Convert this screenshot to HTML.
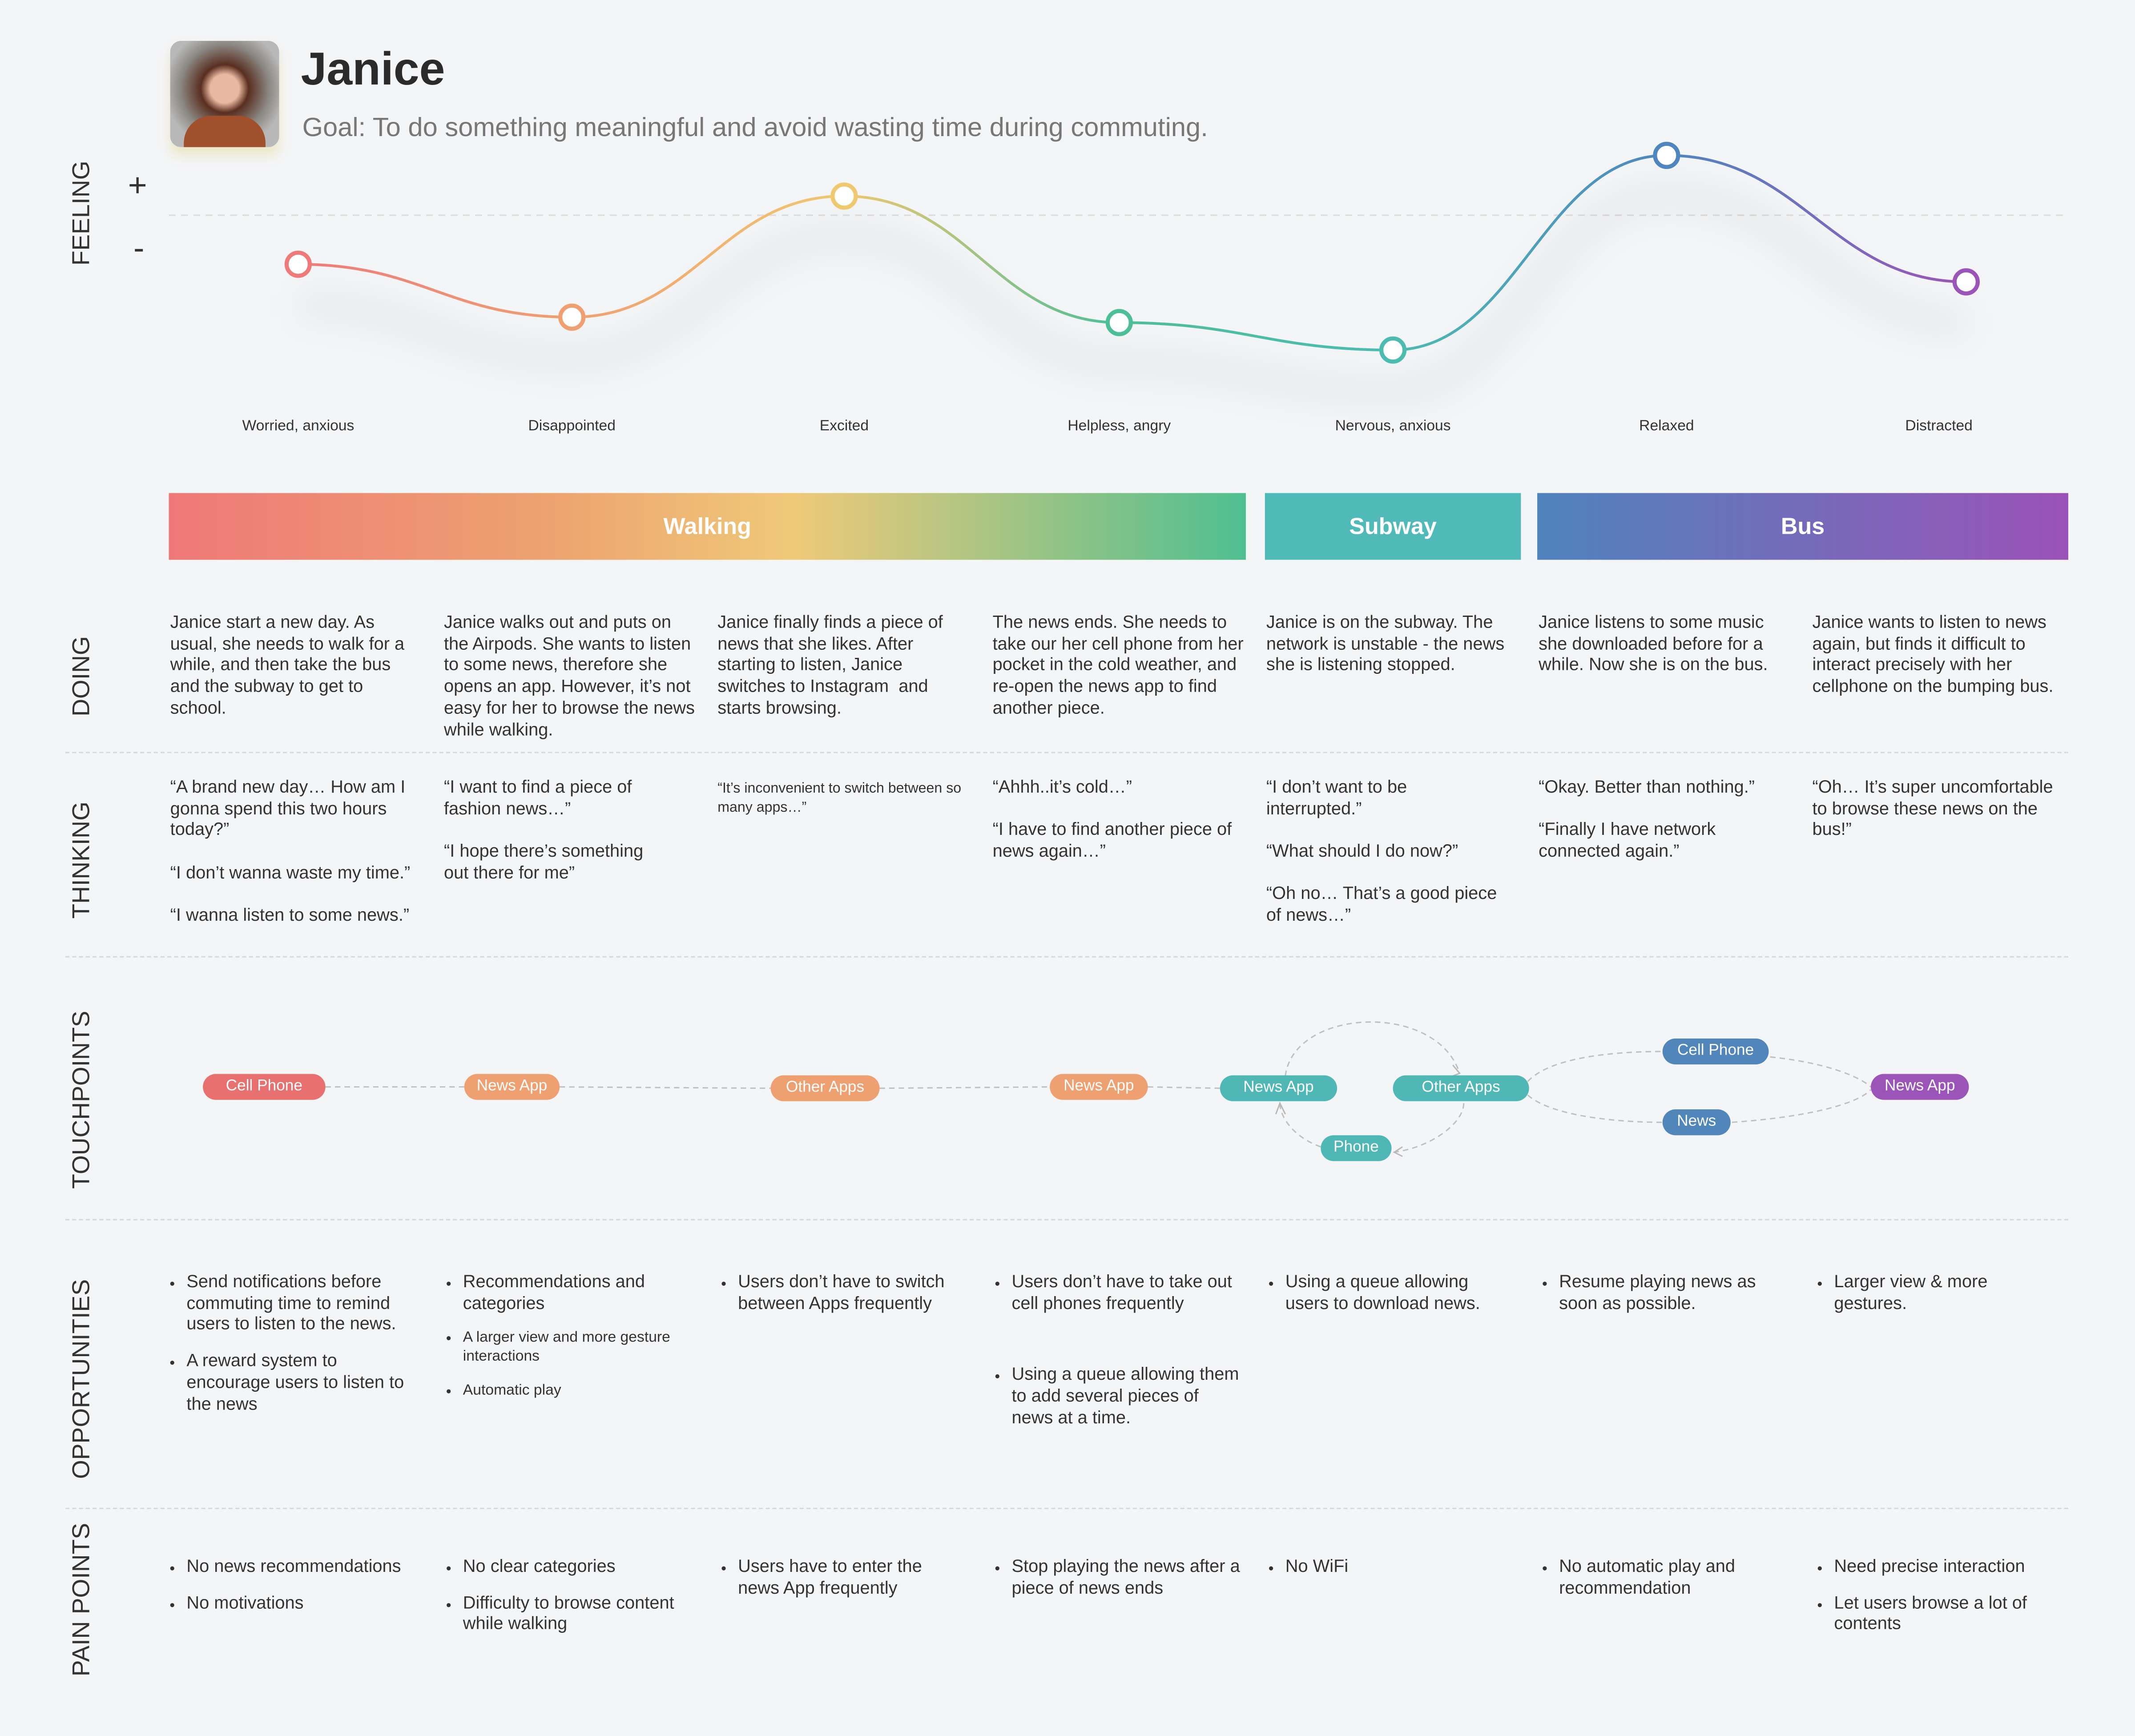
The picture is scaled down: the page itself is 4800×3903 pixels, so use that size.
<!DOCTYPE html>
<html><head><meta charset="utf-8">
<style>
html,body{margin:0;padding:0;background:#f4f5f7;}
body{width:4800px;height:3843px;overflow:hidden;}
#page{position:absolute;left:0;top:0;width:1568px;height:1255px;transform-origin:0 0;transform:scale(3.0612,3.0622);font-family:"Liberation Sans",sans-serif;color:#333;}
.abs{position:absolute;}
.sec{position:absolute;font-size:18px;color:#333;transform:rotate(-90deg);transform-origin:center;white-space:nowrap;width:200px;text-align:center;left:-40px;}
.col{position:absolute;width:181px;font-size:13px;line-height:15.7px;color:#333;}
.col p{margin:0 0 15.7px 0;}
.small{font-size:10.5px;line-height:14px;}
ul{margin:0;padding:0 0 0 12px;}
li{margin:0 0 11px 0;padding-left:0;}
li::marker{font-size:10px;}
.sm li{font-size:11px;line-height:14px;}
.div{position:absolute;left:48px;width:1471px;border-top:1px dashed #d8d8d8;height:0;}
.pill{position:absolute;height:19px;line-height:19px;border-radius:10px;color:#fff;font-size:11.5px;text-align:center;transform:translate(-50%,-50%);}
.phase{position:absolute;top:362px;height:49px;line-height:49px;color:#fff;font-weight:bold;font-size:17px;text-align:center;}
</style></head><body>
<div id="page">
  <div class="abs" style="left:125px;top:30px;width:80px;height:78px;border-radius:8px;background:radial-gradient(circle at 50% 45%,#e8b8a0 0 18%,#5a2e20 30%,#8a8680 55%,#b8b8b8 75%);box-shadow:0 6px 8px rgba(230,220,150,0.5);overflow:hidden;">
    <div style="position:absolute;left:10px;top:55px;width:60px;height:30px;background:#a0502a;border-radius:20px 20px 0 0;"></div>
  </div>
  <div class="abs" style="left:221px;top:32px;font-size:34px;font-weight:bold;color:#2b2b2b;">Janice</div>
  <div class="abs" style="left:222px;top:83px;font-size:19.5px;color:#777;white-space:nowrap;">Goal: To do something meaningful and avoid wasting time during commuting.</div>

  <div class="sec" style="top:146px;">FEELING</div>
  <div class="abs" style="left:94px;top:123px;font-size:24px;">+</div>
  <div class="abs" style="left:98px;top:169px;font-size:24px;">-</div>

  <svg class="abs" id="feel" style="left:0;top:0;" width="1568" height="330"></svg>

  <div class="phase" style="left:124px;width:791px;background:linear-gradient(90deg,#ee7878,#eda26f 35%,#efc978 58%,#4fbf90);">Walking</div>
  <div class="phase" style="left:929px;width:188px;background:#50bab8;">Subway</div>
  <div class="phase" style="left:1129px;width:390px;background:linear-gradient(90deg,#4f83bd,#9b52b8);">Bus</div>

  <div class="sec" style="top:486px;">DOING</div>
  <div class="sec" style="top:621px;">THINKING</div>
  <div class="sec" style="top:797px;">TOUCHPOINTS</div>
  <div class="sec" style="top:1002px;">OPPORTUNITIES</div>
  <div class="sec" style="top:1164px;">PAIN POINTS</div>

  <div class="div" style="top:552px;"></div>
  <div class="div" style="top:702px;"></div>
  <div class="div" style="top:895px;"></div>
  <div class="div" style="top:1107px;"></div>

  <!-- DOING -->
  <div class="col" style="left:125px;top:449px;">Janice start a new day. As usual, she needs to walk for a while, and then take the bus and the subway to get to school.</div>
  <div class="col" style="left:326px;top:449px;width:188px;">Janice walks out and puts on the Airpods. She wants to listen to some news, therefore she opens an app. However, it’s not easy for her to browse the news while walking.</div>
  <div class="col" style="left:527px;top:449px;">Janice finally finds a piece of news that she likes. After starting to listen, Janice switches to Instagram &nbsp;and starts browsing.</div>
  <div class="col" style="left:729px;top:449px;width:188px;">The news ends. She needs to take our her cell phone from her pocket in the cold weather, and re-open the news app to find another piece.</div>
  <div class="col" style="left:930px;top:449px;width:188px;">Janice is on the subway. The network is unstable - the news she is listening stopped.</div>
  <div class="col" style="left:1130px;top:449px;">Janice listens to some music she downloaded before for a while. Now she is on the bus.</div>
  <div class="col" style="left:1331px;top:449px;width:190px;">Janice wants to listen to news again, but finds it difficult to interact precisely with her cellphone on the bumping bus.</div>

  <!-- THINKING -->
  <div class="col" style="left:125px;top:570px;"><p>“A brand new day… How am I gonna spend this two hours today?”</p><p>“I don’t wanna waste my time.”</p><p>“I wanna listen to some news.”</p></div>
  <div class="col" style="left:326px;top:570px;width:160px;"><p>“I want to find a piece of fashion news…”</p><p>“I hope there’s something out there for me”</p></div>
  <div class="col small" style="left:527px;top:572px;width:192px;">“It’s inconvenient to switch between so many apps…”</div>
  <div class="col" style="left:729px;top:570px;"><p>“Ahhh..it’s cold…”</p><p>“I have to find another piece of news again…”</p></div>
  <div class="col" style="left:930px;top:570px;width:175px;"><p>“I don’t want to be interrupted.”</p><p>“What should I do now?”</p><p>“Oh no… That’s a good piece of news…”</p></div>
  <div class="col" style="left:1130px;top:570px;"><p>“Okay. Better than nothing.”</p><p>“Finally I have network connected again.”</p></div>
  <div class="col" style="left:1331px;top:570px;"><p>“Oh… It’s super uncomfortable to browse these news on the bus!”</p></div>

  <!-- TOUCHPOINTS -->
  <svg class="abs" style="left:0;top:0;" width="1568" height="1255">
    <g fill="none" stroke="#c0c0c0" stroke-width="1" stroke-dasharray="4,3">
      <path d="M239 798 L341 798"/><path d="M411 798 L566 799"/><path d="M646 799 L771 798"/><path d="M843 798 L896 799"/>
      <path d="M944 790 C950 740 1055 735 1072 788"/>
      <path d="M1075 810 C1075 825 1050 843 1023 846"/>
      <path d="M970 842 C950 835 940 820 940 810"/>
      <path d="M1122 794 C1140 775 1190 772 1222 772"/>
      <path d="M1300 776 C1340 780 1365 790 1374 798"/>
      <path d="M1122 804 C1140 820 1190 824 1221 824"/>
      <path d="M1272 824 C1330 820 1365 810 1374 800"/>
    </g>
    <g fill="none" stroke="#b8b8b8" stroke-width="1">
      <path d="M1067 782 L1072 788 L1067 790"/><path d="M1030 842 L1024 846 L1030 849"/><path d="M937 818 L940 810 L944 818"/>
    </g>
  </svg>
  <div class="pill" style="left:194px;top:798px;width:90px;background:#e8706f;">Cell Phone</div>
  <div class="pill" style="left:376px;top:798px;width:70px;background:#eea070;">News App</div>
  <div class="pill" style="left:606px;top:799px;width:80px;background:#eea070;">Other Apps</div>
  <div class="pill" style="left:807px;top:798px;width:72px;background:#eea070;">News App</div>
  <div class="pill" style="left:939px;top:799px;width:86px;background:#4fb8b6;">News App</div>
  <div class="pill" style="left:1073px;top:799px;width:100px;background:#4fb8b6;">Other Apps</div>
  <div class="pill" style="left:996px;top:843px;width:52px;background:#4fb8b6;">Phone</div>
  <div class="pill" style="left:1260px;top:772px;width:78px;background:#5086ba;">Cell Phone</div>
  <div class="pill" style="left:1246px;top:824px;width:50px;background:#5086ba;">News</div>
  <div class="pill" style="left:1410px;top:798px;width:72px;background:#9b55b8;">News App</div>

  <!-- OPPORTUNITIES -->
  <div class="col" style="left:125px;top:933px;"><ul><li>Send notifications before commuting time to remind users to listen to the news.</li><li>A reward system to encourage users to listen to the news</li></ul></div>
  <div class="col" style="left:328px;top:933px;"><ul><li>Recommendations and categories</li></ul><ul class="sm"><li>A larger view and more gesture interactions</li><li>Automatic play</li></ul></div>
  <div class="col" style="left:530px;top:933px;"><ul><li>Users don’t have to switch between Apps frequently</li></ul></div>
  <div class="col" style="left:731px;top:933px;"><ul><li style="margin-bottom:37px;">Users don’t have to take out cell phones frequently</li><li>Using a queue allowing them to add several pieces of news at a time.</li></ul></div>
  <div class="col" style="left:932px;top:933px;"><ul><li>Using a queue allowing users to download news.</li></ul></div>
  <div class="col" style="left:1133px;top:933px;"><ul><li>Resume playing news as soon as possible.</li></ul></div>
  <div class="col" style="left:1335px;top:933px;"><ul><li>Larger view &amp; more gestures.</li></ul></div>

  <!-- PAIN POINTS -->
  <div class="col" style="left:125px;top:1142px;width:190px;"><ul><li>No news recommendations</li><li>No motivations</li></ul></div>
  <div class="col" style="left:328px;top:1142px;"><ul><li>No clear categories</li><li>Difficulty to browse content while walking</li></ul></div>
  <div class="col" style="left:530px;top:1142px;"><ul><li>Users have to enter the news App frequently</li></ul></div>
  <div class="col" style="left:731px;top:1142px;"><ul><li>Stop playing the news after a piece of news ends</li></ul></div>
  <div class="col" style="left:932px;top:1142px;"><ul><li>No WiFi</li></ul></div>
  <div class="col" style="left:1133px;top:1142px;"><ul><li>No automatic play and recommendation</li></ul></div>
  <div class="col" style="left:1335px;top:1142px;"><ul><li>Need precise interaction</li><li>Let users browse a lot of contents</li></ul></div>
</div>
<script>
const feelings = ["Worried, anxious","Disappointed","Excited","Helpless, angry","Nervous, anxious","Relaxed","Distracted"];
const feelingScores = [-1.0, -2.08, 0.39, -2.19, -2.75, 1.22, -1.36];
const pointColors = ["#ee7a7a","#f0a070","#efc870","#4dbf98","#4cbcb0","#4f86c0","#9b55b8"];
const xPos = i => [219,420,620,822,1023,1224,1444][i];
const labelX = i => [219,420,620,822,1023,1224,1424][i];
const yScale = v => 158 - v*36;
const svg = document.getElementById('feel');
const NS = 'http://www.w3.org/2000/svg';
function mk(t,a){const e=document.createElementNS(NS,t);for(const k in a)e.setAttribute(k,a[k]);return e;}
const defs = mk('defs',{});
const grad = mk('linearGradient',{id:'lg',gradientUnits:'userSpaceOnUse',x1:219,y1:0,x2:1444,y2:0});
pointColors.forEach((c,i)=>{grad.appendChild(mk('stop',{offset:((xPos(i)-219)/1225).toFixed(3),'stop-color':c}));});
defs.appendChild(grad);
const flt = mk('filter',{id:'blur',x:'-10%',y:'-50%',width:'120%',height:'200%'});
flt.appendChild(mk('feGaussianBlur',{stdDeviation:12}));
defs.appendChild(flt);
svg.appendChild(defs);
const base = mk('line',{x1:124,y1:158,x2:1519,y2:158,stroke:'#dcdcdc','stroke-dasharray':'5,4'});


svg.appendChild(base);
const pts = feelingScores.map((v,i)=>[xPos(i),yScale(v)]);
let d = 'M'+pts[0][0]+' '+pts[0][1];
for(let i=0;i<pts.length-1;i++){
  const p1=pts[i],p2=pts[i+1];
  const h=(p2[0]-p1[0])*0.45;
  d+=' C'+(p1[0]+h)+' '+p1[1]+' '+(p2[0]-h)+' '+p2[1]+' '+p2.join(' ');
}
const shadow = mk('path',{d:d,fill:'none',stroke:'#000','stroke-opacity':0.05,'stroke-width':20,filter:'url(#blur)',transform:'translate(0,30)'});


svg.appendChild(shadow);
const curve = mk('path',{d:d,fill:'none',stroke:'url(#lg)','stroke-width':2});


svg.appendChild(curve);
pts.forEach((p,i)=>{
  const c = mk('circle',{cx:p[0],cy:p[1],r:8.5,fill:'#fff',stroke:pointColors[i],'stroke-width':3});
  
  
  svg.appendChild(c);
  const t = mk('text',{x:labelX(i),y:316,'text-anchor':'middle','font-size':11,fill:'#333','font-family':'Liberation Sans, sans-serif'});
  t.textContent = feelings[i];
  
  
  svg.appendChild(t);
});
</script>
</body></html>
